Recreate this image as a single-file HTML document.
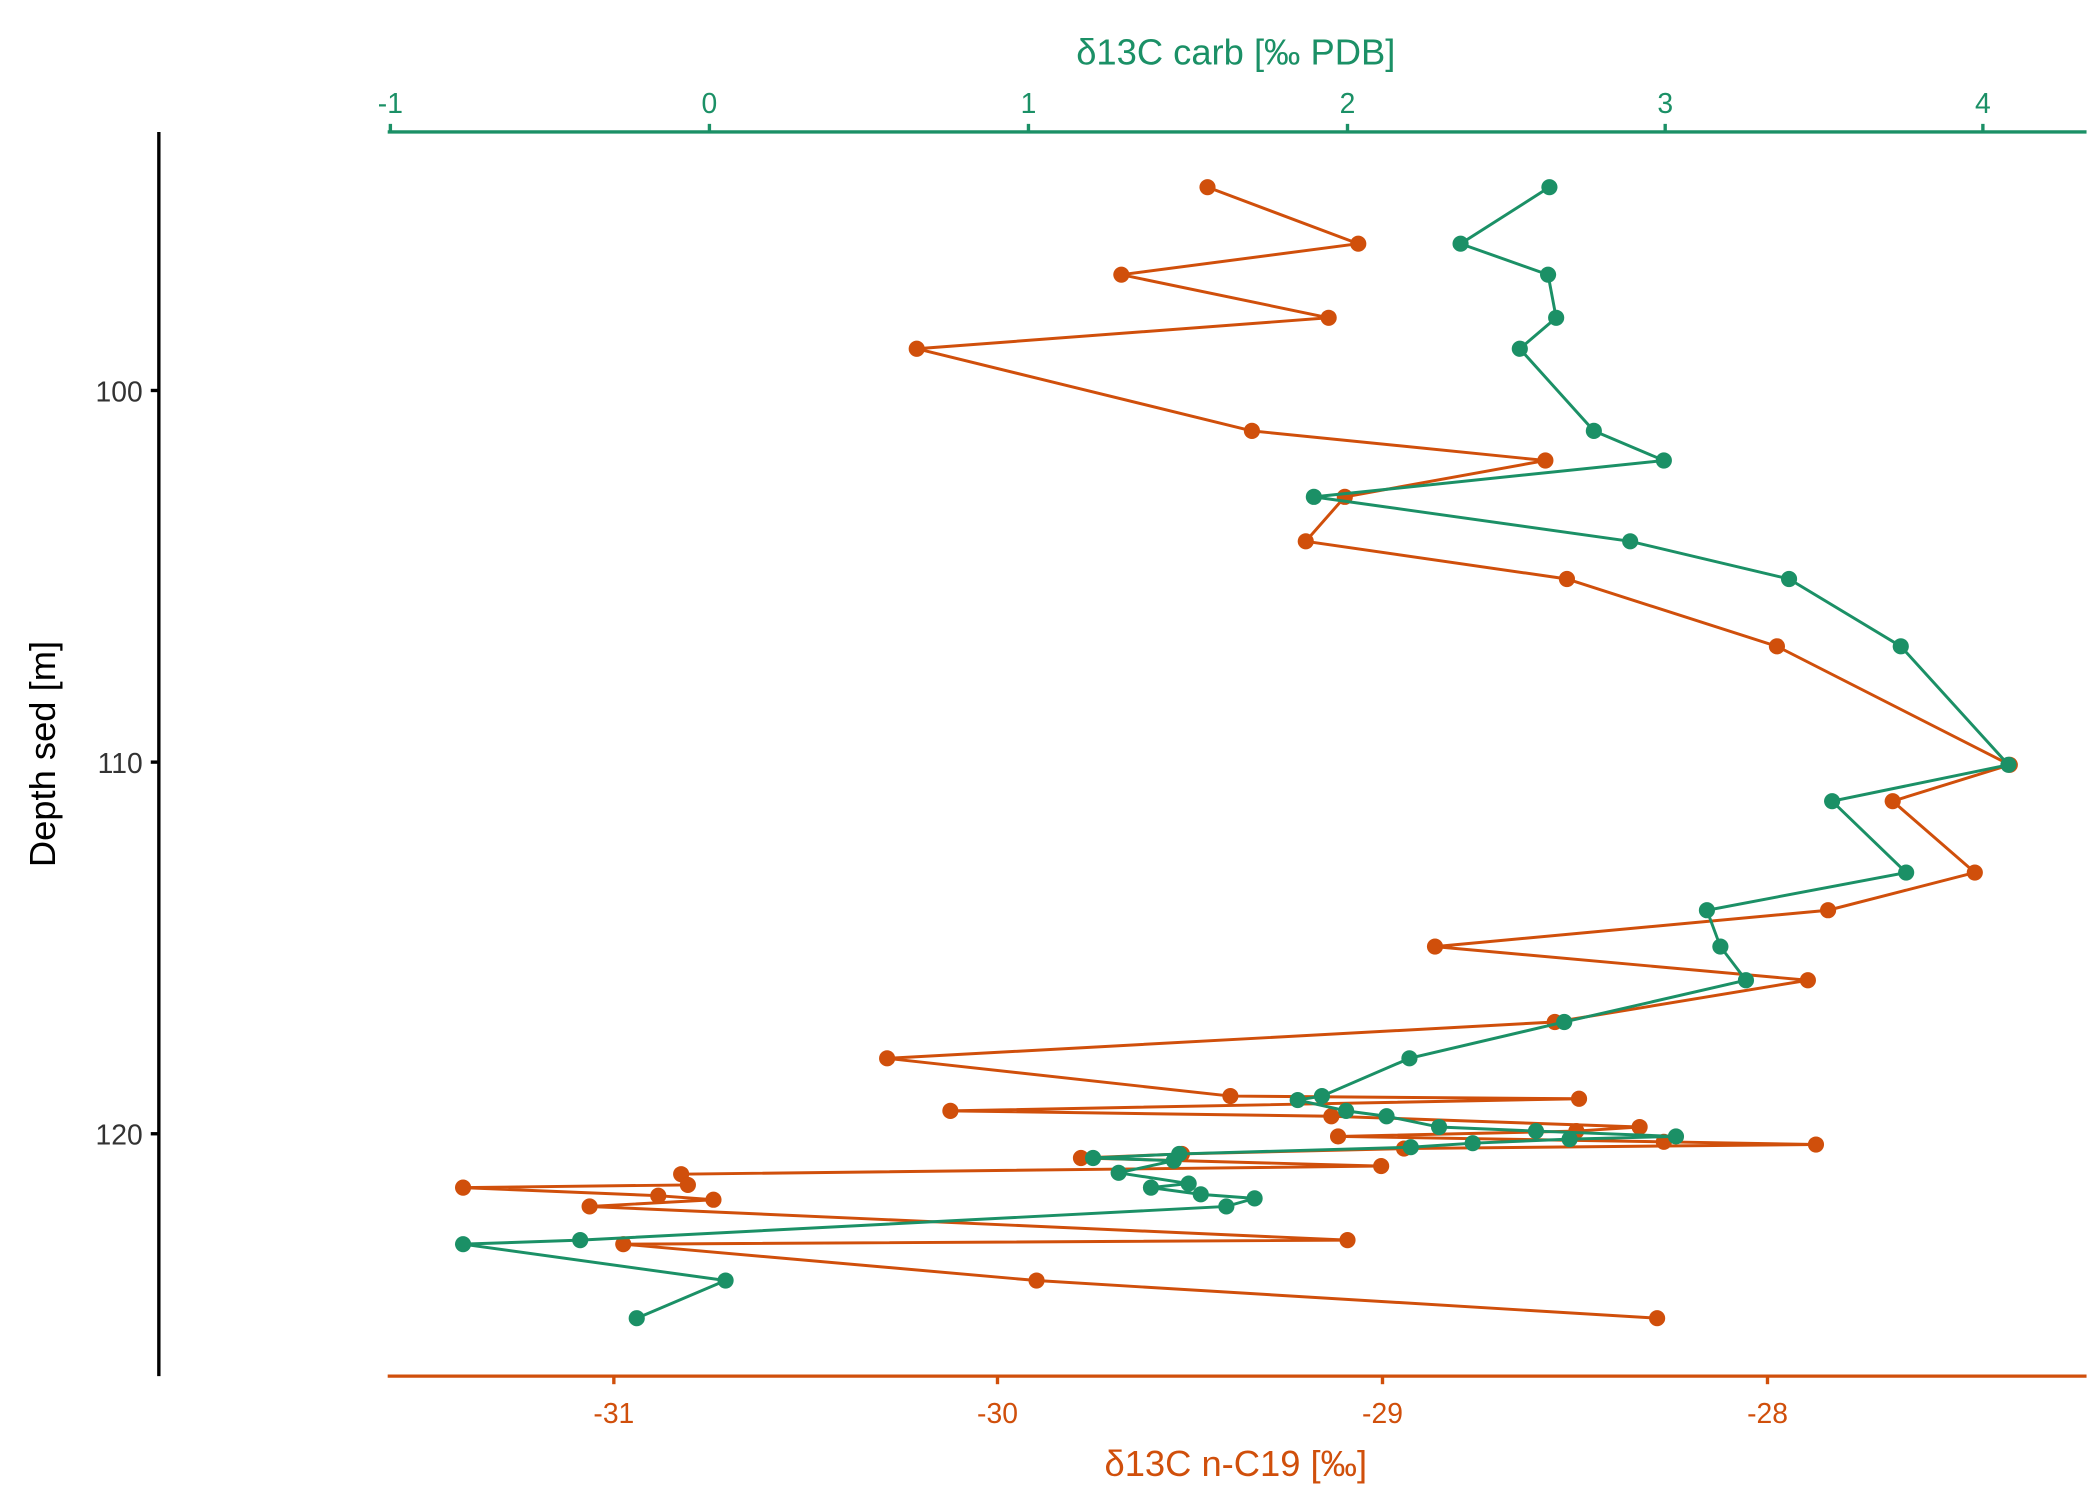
<!DOCTYPE html>
<html><head><style>html,body{margin:0;padding:0;background:#fff}svg{display:block}</style></head><body>
<svg width="2100" height="1500" viewBox="0 0 1560 1114" preserveAspectRatio="none" xmlns="http://www.w3.org/2000/svg" font-family="Liberation Sans, sans-serif">
<rect width="1560" height="1114" fill="#fff"/>
<g stroke="#1b9066" stroke-width="2.5" fill="none">
<line x1="288" y1="98" x2="1550" y2="98"/>
<line x1="290" y1="92" x2="290" y2="98"/><line x1="527" y1="92" x2="527" y2="98"/><line x1="764" y1="92" x2="764" y2="98"/><line x1="1001" y1="92" x2="1001" y2="98"/><line x1="1237" y1="92" x2="1237" y2="98"/><line x1="1473" y1="92" x2="1473" y2="98"/>
</g>
<g fill="#1b9066" font-size="21" text-anchor="middle">
<text x="290" y="84">-1</text><text x="527" y="84">0</text><text x="764" y="84">1</text><text x="1001" y="84">2</text><text x="1237" y="84">3</text><text x="1473" y="84">4</text>
<text x="918" y="48" font-size="27">δ13C carb [‰ PDB]</text>
</g>
<g stroke="#d04f0b" stroke-width="2.5" fill="none">
<line x1="288" y1="1022" x2="1550" y2="1022"/>
<line x1="456" y1="1022" x2="456" y2="1028"/><line x1="741" y1="1022" x2="741" y2="1028"/><line x1="1027" y1="1022" x2="1027" y2="1028"/><line x1="1313" y1="1022" x2="1313" y2="1028"/>
</g>
<g fill="#d04f0b" font-size="21" text-anchor="middle">
<text x="456" y="1057">-31</text><text x="741" y="1057">-30</text><text x="1027" y="1057">-29</text><text x="1313" y="1057">-28</text>
<text x="918" y="1096" font-size="27">δ13C n-C19 [‰]</text>
</g>
<g stroke="#000" stroke-width="2.5">
<line x1="118" y1="98" x2="118" y2="1022"/>
<line x1="112" y1="290" x2="118" y2="290"/><line x1="112" y1="566" x2="118" y2="566"/><line x1="112" y1="842" x2="118" y2="842"/>
</g>
<g fill="#333" font-size="21" text-anchor="end">
<text x="106" y="298">100</text><text x="106" y="574">110</text><text x="106" y="850">120</text>
</g>
<text transform="translate(41,560) rotate(-90)" font-size="27" text-anchor="middle" fill="#000">Depth sed [m]</text>
<g fill="none" stroke="#d04f0b" stroke-width="2.2">
<polyline points="897,139 1009,181 833,204 987,236 681,259 930,320 1148,342 999,369 970,402 1164,430 1320,480 1493,568 1406,595 1467,648 1358,676 1066,703 1343,728 1155,759 659,786 914,814 1173,816 706,825 989,829 1218,837 1171,840 994,844 1236,848 1349,850 1043,853 878,857 803,860 1026,866 506,872 511,880 344,882 489,888 530,891 438,896 1001,921 463,924 770,951 1231,979"/>
</g>
<g fill="#d04f0b">
<circle cx="897" cy="139" r="6"/><circle cx="1009" cy="181" r="6"/><circle cx="833" cy="204" r="6"/><circle cx="987" cy="236" r="6"/><circle cx="681" cy="259" r="6"/><circle cx="930" cy="320" r="6"/><circle cx="1148" cy="342" r="6"/><circle cx="999" cy="369" r="6"/><circle cx="970" cy="402" r="6"/><circle cx="1164" cy="430" r="6"/><circle cx="1320" cy="480" r="6"/><circle cx="1493" cy="568" r="6"/><circle cx="1406" cy="595" r="6"/><circle cx="1467" cy="648" r="6"/><circle cx="1358" cy="676" r="6"/><circle cx="1066" cy="703" r="6"/><circle cx="1343" cy="728" r="6"/><circle cx="1155" cy="759" r="6"/><circle cx="659" cy="786" r="6"/><circle cx="914" cy="814" r="6"/><circle cx="1173" cy="816" r="6"/><circle cx="706" cy="825" r="6"/><circle cx="989" cy="829" r="6"/><circle cx="1218" cy="837" r="6"/><circle cx="1171" cy="840" r="6"/><circle cx="994" cy="844" r="6"/><circle cx="1236" cy="848" r="6"/><circle cx="1349" cy="850" r="6"/><circle cx="1043" cy="853" r="6"/><circle cx="878" cy="857" r="6"/><circle cx="803" cy="860" r="6"/><circle cx="1026" cy="866" r="6"/><circle cx="506" cy="872" r="6"/><circle cx="511" cy="880" r="6"/><circle cx="344" cy="882" r="6"/><circle cx="489" cy="888" r="6"/><circle cx="530" cy="891" r="6"/><circle cx="438" cy="896" r="6"/><circle cx="1001" cy="921" r="6"/><circle cx="463" cy="924" r="6"/><circle cx="770" cy="951" r="6"/><circle cx="1231" cy="979" r="6"/>
</g>
<g fill="none" stroke="#1b9066" stroke-width="2.2">
<polyline points="1151,139 1085,181 1150,204 1156,236 1129,259 1184,320 1236,342 976,369 1211,402 1329,430 1412,480 1492,568 1361,595 1416,648 1268,676 1278,703 1297,728 1162,759 1047,786 982,814 964,817 1000,825 1030,829 1069,837 1141,840 1245,844 1166,846 1094,849 1048,852 876,857 812,860 872,862 831,871 883,879 855,882 892,887 932,890 911,896 431,921 344,924 539,951 473,979"/>
</g>
<g fill="#1b9066">
<circle cx="1151" cy="139" r="6"/><circle cx="1085" cy="181" r="6"/><circle cx="1150" cy="204" r="6"/><circle cx="1156" cy="236" r="6"/><circle cx="1129" cy="259" r="6"/><circle cx="1184" cy="320" r="6"/><circle cx="1236" cy="342" r="6"/><circle cx="976" cy="369" r="6"/><circle cx="1211" cy="402" r="6"/><circle cx="1329" cy="430" r="6"/><circle cx="1412" cy="480" r="6"/><circle cx="1492" cy="568" r="6"/><circle cx="1361" cy="595" r="6"/><circle cx="1416" cy="648" r="6"/><circle cx="1268" cy="676" r="6"/><circle cx="1278" cy="703" r="6"/><circle cx="1297" cy="728" r="6"/><circle cx="1162" cy="759" r="6"/><circle cx="1047" cy="786" r="6"/><circle cx="982" cy="814" r="6"/><circle cx="964" cy="817" r="6"/><circle cx="1000" cy="825" r="6"/><circle cx="1030" cy="829" r="6"/><circle cx="1069" cy="837" r="6"/><circle cx="1141" cy="840" r="6"/><circle cx="1245" cy="844" r="6"/><circle cx="1166" cy="846" r="6"/><circle cx="1094" cy="849" r="6"/><circle cx="1048" cy="852" r="6"/><circle cx="876" cy="857" r="6"/><circle cx="812" cy="860" r="6"/><circle cx="872" cy="862" r="6"/><circle cx="831" cy="871" r="6"/><circle cx="883" cy="879" r="6"/><circle cx="855" cy="882" r="6"/><circle cx="892" cy="887" r="6"/><circle cx="932" cy="890" r="6"/><circle cx="911" cy="896" r="6"/><circle cx="431" cy="921" r="6"/><circle cx="344" cy="924" r="6"/><circle cx="539" cy="951" r="6"/><circle cx="473" cy="979" r="6"/>
</g>
</svg>
</body></html>
